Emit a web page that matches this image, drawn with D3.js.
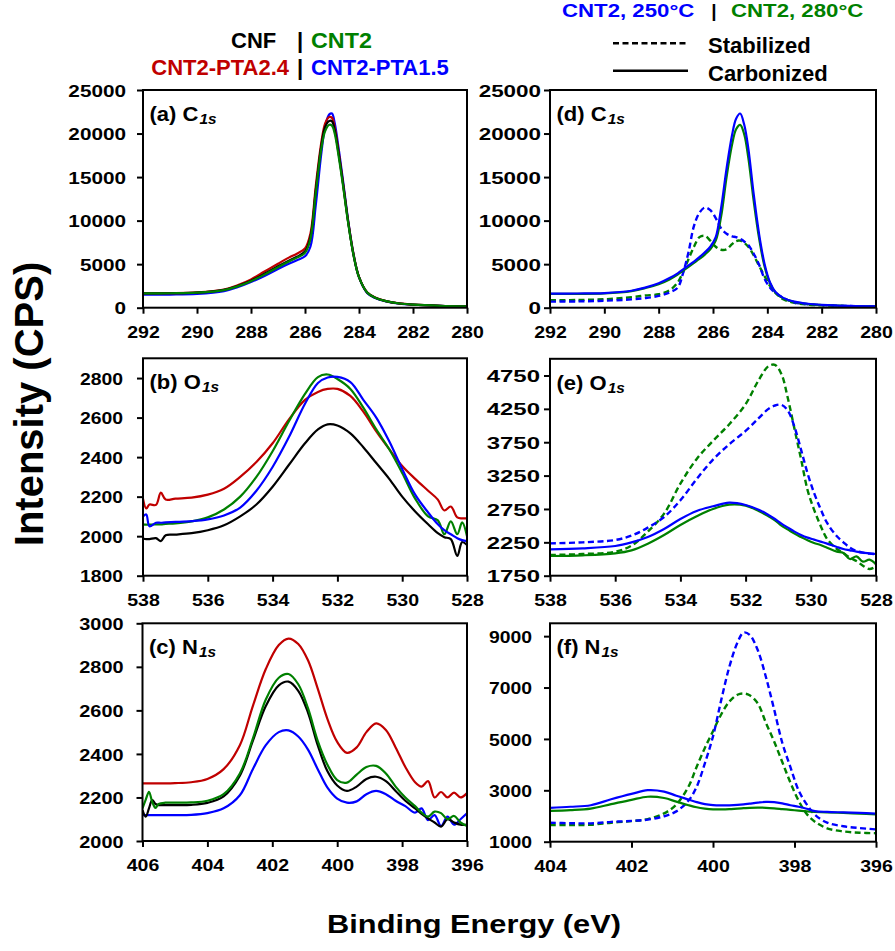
<!DOCTYPE html>
<html>
<head>
<meta charset="utf-8">
<script src="https://cdn.jsdelivr.net/npm/d3@7"></script>
<style>
  body { margin: 0; background: #fff; }
  svg { display: block; }
</style>
</head>
<body>
<script>
const WIDTH = 895;
const HEIGHT = 951;
const FONT = "'Liberation Sans', Arial, Helvetica, sans-serif";

const BLACK = '#000000';
const GREEN = '#008000';
const RED = '#c00000';
const BLUE = '#0000ff';

// ---- tick labels ----
const ticksC = [292, 290, 288, 286, 284, 282, 280];
const ticksO = [538, 536, 534, 532, 530, 528];
const ticksNleft = [406, 404, 402, 400, 398, 396];
const ticksNright = [404, 402, 400, 398, 396];
const yTicksC = [0, 5000, 10000, 15000, 20000, 25000];
const yTicksOleft = [1800, 2000, 2200, 2400, 2600, 2800];
const yTicksOright = [1750, 2250, 2750, 3250, 3750, 4250, 4750];
const yTicksNleft = [2000, 2200, 2400, 2600, 2800, 3000];
const yTicksNright = [1000, 3000, 5000, 7000, 9000];

// ---- (a) C1s, binding energy (eV) and counts ----
const energyA = [292, 291, 290, 289, 288.5, 288, 287.5, 287, 286.6, 286.3, 286, 285.8, 285.6, 285.4, 285.25, 285.1, 285.0, 284.9, 284.75, 284.6, 284.4, 284.2, 284.0, 283.7, 283.4, 283.0, 282.5, 282, 281, 280];
const aCNF     = [1650, 1660, 1730, 2050, 2500, 3100, 3900, 4750, 5400, 5850, 6450, 8100, 13500, 18500, 20800, 21450, 21400, 20400, 17600, 14400, 9800, 6000, 3500, 1750, 1150, 750, 480, 350, 220, 160];
const aCNT2    = [1650, 1660, 1720, 2020, 2450, 3050, 3800, 4650, 5300, 5750, 6300, 7900, 13200, 18200, 20300, 21000, 20900, 20000, 17300, 14200, 9700, 6000, 3500, 1750, 1150, 750, 480, 350, 220, 160];
const aPTA24   = [1660, 1670, 1750, 2090, 2580, 3250, 4150, 5050, 5750, 6200, 6800, 8500, 14000, 18900, 21200, 21900, 21800, 20700, 17800, 14500, 9900, 6100, 3550, 1780, 1170, 760, 490, 355, 225, 160];
const aPTA15   = [1500, 1510, 1580, 1900, 2350, 2950, 3650, 4450, 5050, 5450, 5900, 7000, 11800, 17600, 20900, 22200, 22300, 21200, 18200, 14800, 10000, 6100, 3500, 1700, 1100, 720, 460, 340, 210, 150];

// ---- (b) O1s ----
const energyB = [538, 537.9, 537.8, 537.6, 537.45, 537.3, 537, 536.5, 536, 535.5, 535, 534.5, 534, 533.5, 533, 532.6, 532.3, 532, 531.6, 531.2, 530.8, 530.4, 530, 529.6, 529.2, 528.9, 528.7, 528.5, 528.3, 528.15, 528];
const bCNF     = [1988, 1985, 1985, 1990, 1975, 2005, 2008, 2015, 2030, 2055, 2100, 2160, 2250, 2360, 2470, 2540, 2566, 2560, 2520, 2450, 2370, 2290, 2200, 2125, 2060, 2015, 1995, 1985, 1900, 1970, 1955];
const bCNT2    = [2060, 2058, 2058, 2060, 2060, 2062, 2065, 2075, 2095, 2135, 2200, 2300, 2430, 2580, 2720, 2805, 2818, 2795, 2745, 2650, 2540, 2440, 2320, 2190, 2100, 2080, 2010, 2075, 2010, 2070, 2000];
const bPTA24   = [2190, 2140, 2160, 2158, 2220, 2185, 2190, 2195, 2210, 2240, 2300, 2375, 2470, 2590, 2690, 2730, 2745, 2745, 2710, 2630, 2530, 2440, 2355, 2290, 2230, 2185, 2130, 2150, 2095, 2090, 2090];
const bPTA15   = [2100, 2110, 2050, 2068, 2068, 2070, 2072, 2076, 2085, 2105, 2145, 2230, 2350, 2500, 2670, 2775, 2803, 2806, 2780, 2690, 2600, 2480, 2340, 2210, 2120, 2060, 2030, 2010, 1990, 1980, 1975];

// ---- (c) N1s ----
const energyC = [406, 405.9, 405.8, 405.7, 405.6, 405.5, 405.3, 405, 404.5, 404, 403.5, 403, 402.6, 402.2, 401.8, 401.5, 401.2, 400.9, 400.6, 400.3, 400, 399.7, 399.4, 399.1, 398.8, 398.5, 398.2, 397.9, 397.6, 397.4, 397.2, 397, 396.8, 396.6, 396.4, 396.2, 396];
const cCNF     = [2142, 2112, 2150, 2188, 2170, 2165, 2165, 2165, 2166, 2175, 2205, 2300, 2460, 2620, 2715, 2732, 2690, 2590, 2440, 2320, 2255, 2230, 2250, 2285, 2295, 2275, 2230, 2185, 2150, 2125, 2104, 2085, 2066, 2100, 2085, 2075, 2075];
const cCNT2    = [2150, 2190, 2226, 2180, 2152, 2170, 2176, 2176, 2177, 2185, 2215, 2310, 2470, 2650, 2750, 2767, 2720, 2610, 2460, 2350, 2280, 2268, 2305, 2340, 2345, 2310, 2250, 2200, 2160, 2130, 2112, 2135, 2128, 2100, 2115, 2085, 2069];
const cPTA24   = [2265, 2265, 2265, 2265, 2265, 2265, 2265, 2266, 2270, 2285, 2330, 2440, 2620, 2790, 2900, 2930, 2905, 2830, 2700, 2560, 2455, 2405, 2430, 2500, 2540, 2510, 2430, 2340, 2270, 2250, 2275, 2200, 2225, 2200, 2222, 2200, 2220];
const cPTA15   = [2119, 2119, 2119, 2119, 2119, 2119, 2119, 2119, 2120, 2128, 2150, 2210, 2330, 2440, 2500, 2508, 2480, 2420, 2330, 2245, 2195, 2176, 2182, 2215, 2230, 2215, 2185, 2160, 2130, 2150, 2096, 2119, 2069, 2112, 2075, 2100, 2127];

// ---- (d) C1s, CNT2 250 / 280 C ----
const energyD = [292, 291, 290, 289, 288.5, 288, 287.6, 287.3, 287.1, 286.9, 286.7, 286.5, 286.3, 286.1, 285.9, 285.7, 285.5, 285.3, 285.15, 285.0, 284.85, 284.7, 284.5, 284.3, 284.1, 283.9, 283.7, 283.4, 283, 282.5, 282, 281, 280];
const d250Carb = [1620, 1630, 1680, 1950, 2300, 2800, 3400, 3950, 4400, 4850, 5300, 5800, 6350, 7000, 8100, 11500, 16000, 19800, 21700, 22300, 21000, 18300, 13000, 8400, 5000, 2900, 1800, 1100, 700, 450, 330, 200, 150];
const d280Carb = [1580, 1590, 1640, 1900, 2250, 2700, 3250, 3800, 4250, 4700, 5150, 5600, 6100, 6700, 7700, 10500, 15000, 18700, 20500, 21000, 19900, 17200, 12200, 7900, 4700, 2800, 1750, 1050, 650, 420, 310, 190, 140];
const d250Stab = [700, 720, 800, 950, 1100, 1350, 1750, 2300, 4000, 6400, 9400, 10900, 11500, 11200, 10300, 9100, 8500, 8200, 8100, 7900, 7600, 7200, 6200, 4900, 3300, 2300, 1700, 1100, 600, 400, 300, 200, 150];
const d280Stab = [850, 880, 970, 1200, 1400, 1550, 2000, 2900, 4100, 5600, 7000, 8100, 8250, 7700, 7000, 6650, 6700, 7300, 7650, 7700, 7450, 7000, 6000, 4800, 3600, 2500, 1700, 950, 550, 350, 270, 180, 140];

// ---- (e) O1s ----
const energyE = [538, 537, 536, 535.5, 535, 534.5, 534, 533.5, 533, 532.5, 532, 531.6, 531.3, 531.1, 530.9, 530.7, 530.5, 530.3, 530.1, 529.9, 529.7, 529.5, 529.2, 529, 528.8, 528.6, 528.4, 528.2, 528];
const e250Carb = [2145, 2160, 2195, 2250, 2330, 2450, 2600, 2720, 2790, 2845, 2810, 2740, 2660, 2600, 2530, 2470, 2410, 2360, 2320, 2290, 2260, 2230, 2180, 2150, 2130, 2110, 2095, 2085, 2075];
const e280Carb = [2045, 2055, 2085, 2130, 2230, 2360, 2510, 2640, 2750, 2815, 2800, 2720, 2640, 2580, 2500, 2440, 2380, 2330, 2280, 2240, 2210, 2170, 2110, 2090, 2000, 2040, 1960, 1990, 1920];
const e250Stab = [2235, 2250, 2285, 2350, 2470, 2630, 2880, 3200, 3490, 3720, 3920, 4110, 4250, 4300, 4310, 4220, 3980, 3640, 3285, 2990, 2750, 2540, 2340, 2250, 2170, 2120, 2095, 2080, 2075];
const e280Stab = [2060, 2075, 2110, 2200, 2410, 2680, 3130, 3500, 3770, 4020, 4320, 4680, 4890, 4910, 4770, 4400, 3950, 3500, 3035, 2740, 2500, 2300, 2150, 2090, 2020, 1970, 1900, 1850, 1890];

// ---- (f) N1s ----
const energyF = [404, 403.5, 403, 402.5, 402, 401.6, 401.2, 400.9, 400.6, 400.4, 400.2, 400, 399.8, 399.6, 399.4, 399.25, 399.1, 398.9, 398.7, 398.5, 398.3, 398.1, 397.9, 397.7, 397.5, 397.2, 396.8, 396.4, 396];
const f250Carb = [2320, 2360, 2420, 2650, 2860, 3005, 2950, 2790, 2640, 2540, 2460, 2420, 2410, 2415, 2430, 2450, 2480, 2520, 2550, 2540, 2490, 2420, 2360, 2280, 2190, 2160, 2140, 2120, 2090];
const f280Carb = [2200, 2230, 2290, 2460, 2630, 2750, 2700, 2560, 2420, 2340, 2290, 2260, 2255, 2265, 2290, 2305, 2320, 2325, 2320, 2300, 2270, 2240, 2210, 2180, 2160, 2140, 2120, 2090, 2066];
const f250Stab = [1740, 1720, 1715, 1770, 1810, 1860, 1990, 2180, 2600, 3140, 4050, 5100, 6500, 7800, 8750, 9140, 9050, 8450, 7400, 6150, 4850, 3900, 3000, 2450, 2050, 1740, 1600, 1530, 1480];
const f280Stab = [1650, 1650, 1660, 1740, 1800, 1880, 2100, 2450, 3150, 3920, 4650, 5300, 5950, 6450, 6720, 6770, 6700, 6380, 5620, 4900, 4100, 3300, 2600, 2080, 1780, 1520, 1400, 1350, 1330];

const panels = [
  { label: '(a) ', el: 'C', px: [143, 467], py: [90, 307.7], xDomain: [292, 280], yDomain: [0, 25000],
    xTicks: ticksC, yTicks: yTicksC, yOff: 17, ySx: 1.22, energy: energyA,
    series: [[aPTA15, BLUE], [aPTA24, RED], [aCNF, BLACK], [aCNT2, GREEN]] },
  { label: '(b) ', el: 'O', px: [143, 467], py: [358.3, 575.7], xDomain: [538, 528], yDomain: [1800, 2900],
    xTicks: ticksO, yTicks: yTicksOleft, yOff: 20, ySx: 1.14, energy: energyB,
    series: [[bCNF, BLACK], [bPTA24, RED], [bCNT2, GREEN], [bPTA15, BLUE]] },
  { label: '(c) ', el: 'N', px: [142.5, 467], py: [623.3, 841], xDomain: [406, 396], yDomain: [2000, 3000],
    xTicks: ticksNleft, yTicks: yTicksNleft, yOff: 19, ySx: 1.17, energy: energyC,
    series: [[cPTA24, RED], [cPTA15, BLUE], [cCNF, BLACK], [cCNT2, GREEN]] },
  { label: '(d) ', el: 'C', px: [550, 876], py: [90, 307.7], xDomain: [292, 280], yDomain: [0, 25000],
    xTicks: ticksC, yTicks: yTicksC, yOff: 9, ySx: 1.32, energy: energyD,
    series: [[d280Stab, GREEN, true], [d250Stab, BLUE, true], [d280Carb, GREEN], [d250Carb, BLUE]] },
  { label: '(e) ', el: 'O', px: [550, 876], py: [358.8, 575.7], xDomain: [538, 528], yDomain: [1750, 5000],
    xTicks: ticksO, yTicks: yTicksOright, yOff: 10, ySx: 1.41, energy: energyE,
    series: [[e280Stab, GREEN, true], [e250Stab, BLUE, true], [e280Carb, GREEN], [e250Carb, BLUE]] },
  { label: '(f) ', el: 'N', px: [550, 876], py: [623.3, 841.7], xDomain: [404, 396], yDomain: [1000, 9500],
    xTicks: ticksNright, yTicks: yTicksNright, yOff: 18, ySx: 1.14, energy: energyF,
    series: [[f280Stab, GREEN, true], [f250Stab, BLUE, true], [f280Carb, GREEN], [f250Carb, BLUE]] },
];

const svg = d3.select('body').append('svg')
  .attr('width', WIDTH)
  .attr('height', HEIGHT)
  .attr('viewBox', [0, 0, WIDTH, HEIGHT])
  .attr('font-family', FONT)
  .attr('font-weight', 'bold');

svg.append('rect').attr('width', WIDTH).attr('height', HEIGHT).attr('fill', '#fff');

panels.forEach((p, idx) => drawPanel(p, idx));

function drawPanel(p, idx) {
  const x = d3.scaleLinear().domain(p.xDomain).range(p.px);
  const y = d3.scaleLinear().domain(p.yDomain).range([p.py[1], p.py[0]]);

  const clipId = 'clip' + idx;
  svg.append('clipPath').attr('id', clipId)
    .append('rect')
      .attr('x', p.px[0]).attr('y', p.py[0])
      .attr('width', p.px[1] - p.px[0]).attr('height', p.py[1] - p.py[0]);

  // x axis
  const gx = svg.append('g')
    .attr('transform', `translate(0,${p.py[1]})`)
    .call(d3.axisBottom(x).tickValues(p.xTicks).tickSize(6).tickFormat(d3.format('d')));
  gx.select('.domain').remove();
  gx.selectAll('.tick line').attr('stroke', '#000').attr('stroke-width', 2);
  gx.selectAll('.tick text')
    .attr('y', 30.5).attr('dy', 0)
    .attr('transform', 'scale(1.15,1)')
    .attr('fill', '#000').attr('font-size', 17).attr('font-family', FONT).attr('font-weight', 'bold');

  // y axis
  const gy = svg.append('g')
    .attr('transform', `translate(${p.px[0]},0)`)
    .call(d3.axisLeft(y).tickValues(p.yTicks).tickSize(6).tickFormat(d3.format('d')));
  gy.select('.domain').remove();
  gy.selectAll('.tick line').attr('stroke', '#000').attr('stroke-width', 2);
  gy.selectAll('.tick text')
    .attr('x', -p.yOff / p.ySx).attr('dy', '0.36em')
    .attr('transform', `scale(${p.ySx},1)`)
    .attr('fill', '#000').attr('font-size', 17).attr('font-family', FONT).attr('font-weight', 'bold');

  // spectra
  const g = svg.append('g').attr('clip-path', `url(#${clipId})`);
  const line = d3.line()
    .x((d, i) => x(p.energy[i]))
    .y(d => y(d))
    .curve(d3.curveCatmullRom.alpha(0.5));
  p.series.forEach(([vals, color, dashed]) => {
    g.append('path')
      .attr('d', line(vals))
      .attr('fill', 'none')
      .attr('stroke', color)
      .attr('stroke-width', dashed ? 2.4 : 2.2)
      .attr('stroke-dasharray', dashed ? '6,3.5' : null);
  });

  // frame
  svg.append('rect')
    .attr('x', p.px[0]).attr('y', p.py[0])
    .attr('width', p.px[1] - p.px[0]).attr('height', p.py[1] - p.py[0])
    .attr('fill', 'none').attr('stroke', '#000').attr('stroke-width', 2);

  // panel label
  const sx = 1.1;
  const t = svg.append('text')
    .attr('transform', `translate(${p.px[0] + 6.5},${p.py[0] + 31}) scale(${sx},1)`)
    .attr('font-size', 20);
  t.append('tspan').text(p.label + p.el);
  t.append('tspan').attr('font-size', 14).attr('font-style', 'italic').attr('dx', 1).attr('dy', 3).text('1s');
}

// legend, left column
const legL = svg.append('g').attr('font-size', 22);
legL.append('text').attr('x', 231).attr('y', 48).attr('fill', BLACK).text('CNF');
legL.append('text').attr('x', 300).attr('y', 48).attr('text-anchor', 'middle').attr('fill', BLACK).text('|');
legL.append('text').attr('transform', 'translate(311,48) scale(1.06,1)').attr('fill', GREEN).text('CNT2');
legL.append('text').attr('x', 289).attr('y', 75).attr('text-anchor', 'end').attr('fill', RED).text('CNT2-PTA2.4');
legL.append('text').attr('x', 300).attr('y', 75).attr('text-anchor', 'middle').attr('fill', BLACK).text('|');
legL.append('text').attr('x', 311).attr('y', 75).attr('fill', BLUE).text('CNT2-PTA1.5');

// legend, right column
const legR = svg.append('g');
legR.append('text').attr('transform', 'translate(562,17) scale(1.17,1)').attr('font-size', 19).attr('fill', BLUE).text('CNT2, 250°C');
legR.append('text').attr('x', 714).attr('y', 17).attr('text-anchor', 'middle').attr('font-size', 19).attr('fill', BLACK).text('|');
legR.append('text').attr('transform', 'translate(731,17) scale(1.17,1)').attr('font-size', 19).attr('fill', GREEN).text('CNT2, 280°C');
legR.append('line').attr('x1', 613).attr('x2', 688).attr('y1', 43.3).attr('y2', 43.3)
  .attr('stroke', '#000').attr('stroke-width', 2.4).attr('stroke-dasharray', '6,3.5');
legR.append('line').attr('x1', 613).attr('x2', 688).attr('y1', 70.7).attr('y2', 70.7)
  .attr('stroke', '#000').attr('stroke-width', 2.4);
legR.append('text').attr('x', 708).attr('y', 53).attr('font-size', 22).text('Stabilized');
legR.append('text').attr('x', 708).attr('y', 81).attr('font-size', 22).text('Carbonized');

// axis titles
svg.append('text')
  .attr('transform', 'translate(474,932.7) scale(1.23,1)')
  .attr('text-anchor', 'middle').attr('font-size', 25)
  .text('Binding Energy (eV)');
svg.append('text')
  .attr('transform', 'translate(42.5,404) rotate(-90)')
  .attr('text-anchor', 'middle').attr('font-size', 40)
  .text('Intensity (CPS)');
</script>
</body>
</html>
